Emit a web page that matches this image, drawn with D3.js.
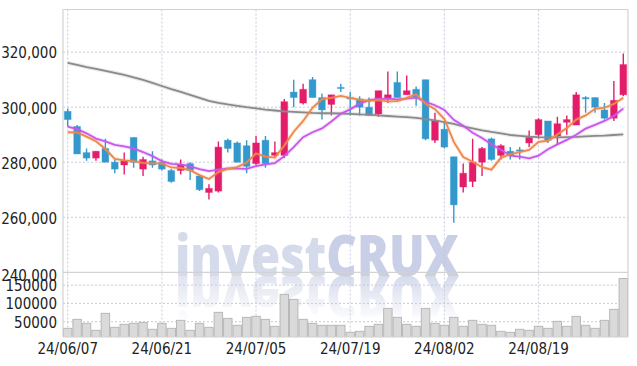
<!DOCTYPE html>
<html><head><meta charset="utf-8">
<script src="https://cdn.jsdelivr.net/npm/d3@7"></script>
<style>body{margin:0;background:#fff}svg{display:block}</style>
</head><body>
<svg id="c" width="637" height="366"></svg>
<script>
const dates = ["24/06/07","24/06/10","24/06/11","24/06/12","24/06/13","24/06/14","24/06/17","24/06/18","24/06/19","24/06/20","24/06/21","24/06/24","24/06/25","24/06/26","24/06/27","24/06/28","24/07/01","24/07/02","24/07/03","24/07/04","24/07/05","24/07/08","24/07/09","24/07/10","24/07/11","24/07/12","24/07/15","24/07/16","24/07/17","24/07/18","24/07/19","24/07/22","24/07/23","24/07/24","24/07/25","24/07/26","24/07/29","24/07/30","24/07/31","24/08/01","24/08/02","24/08/05","24/08/06","24/08/07","24/08/08","24/08/09","24/08/12","24/08/13","24/08/14","24/08/16","24/08/19","24/08/20","24/08/21","24/08/22","24/08/23","24/08/26","24/08/27","24/08/28","24/08/29","24/08/30"];
const open = [298500,293000,283500,281500,285000,280000,279000,289000,277500,280500,
 280000,277000,277000,279500,275000,269000,269500,288000,287000,286000,
 279500,288000,282500,282500,305500,301500,310000,303500,301000,307200,
 303500,303000,300000,297500,303000,309000,304500,306500,310000,288000,
 292000,282000,271000,273000,280000,288500,282500,284000,284500,287000,
 290000,295000,289500,294500,293500,303500,303500,299000,296000,304500];
const high = [299500,293500,285000,284000,288500,281000,283500,289000,282000,284000,
 281000,277500,281000,280000,275500,272000,287500,288500,287500,288000,
 289500,289500,287500,303000,310000,308500,311000,305000,304500,308500,
 305500,304000,303500,306000,313000,313000,311500,307500,310000,298000,
 295000,282000,279500,288500,285500,289000,286500,285500,285500,291500,
 296000,295000,296500,297000,305500,304000,303500,301500,309500,319500];
const low = [293000,283000,280500,280500,280000,276000,275500,278000,275000,278000,
 277000,272500,275500,273500,269500,266500,269000,283500,280000,276000,
 279000,278000,281500,281500,300000,301000,303500,295500,297000,305500,
 297000,297000,297000,296500,301500,303500,304500,300500,288000,287000,
 285000,258000,269000,271000,275000,280500,281000,281000,281000,285500,
 288500,287000,286500,290000,293500,298000,298000,295500,295000,304000];
const close = [295500,283000,281500,284000,280000,277500,280500,280000,281000,279000,
 277500,273000,279000,277000,270000,270500,285500,285000,280000,278500,
 287000,279500,283500,302000,303500,306500,303500,299000,304500,307000,
 303000,300000,297000,306000,304500,303500,306000,303500,288500,295000,
 285500,264500,276000,280000,285000,281000,286000,282500,284000,289000,
 295500,288000,294000,295500,304500,303000,300000,296000,302500,315500];
const volume = [31900,56400,45500,26400,72800,34600,42800,45500,48200,29200,
 45500,31900,53700,26400,45500,34600,75500,59100,40100,61900,
 64600,56400,37300,124500,110900,56400,45500,40100,40100,40100,
 21000,23700,37300,42800,86400,61900,42800,37300,86400,45500,
 40100,61900,37300,53700,42800,40100,23700,21000,29200,26400,
 37300,31900,51000,37300,64600,40100,31900,53700,83700,168100];
const ma5 = [290900,290800,289300,287600,284800,281200,280700,280400,279800,279600,
 279600,278100,277900,277100,275300,273900,276400,277600,278200,279900,
 283200,282000,281700,286100,291100,295000,299800,302900,303400,304100,
 303400,302700,302300,302600,302100,302200,303400,304700,301200,299300,
 295700,287400,281900,280200,278200,277300,281600,282900,283700,284500,
 287400,287800,290100,292400,295500,297000,299400,299800,301200,303400];
const ma10 = [292900,292000,290500,288600,287600,286300,285800,285000,283700,282200,
 280400,279400,279200,278500,277500,276800,277300,277800,277700,277600,
 278600,279200,279700,282200,285500,289100,290900,292300,294800,297600,
 299200,301300,302600,303000,303100,302800,303100,303500,301900,300700,
 299000,295400,293300,290700,288800,286500,284500,282400,282000,281400,
 282400,284700,286500,288100,290000,292200,293600,295000,296800,299500];
const maLong = [316100,315400,314600,313900,313200,312500,311700,310800,309900,308800,
 307700,306600,305600,304500,303400,302300,301600,301000,300500,300000,
 299600,299100,298800,298500,298300,298100,297900,297800,297800,297700,
 297600,297400,297300,297000,296800,296600,296400,296100,295700,295200,
 294600,293900,293000,292300,291600,291000,290500,289900,289600,289300,
 289100,289000,289000,289100,289200,289400,289600,289700,289900,290100];
const priceTicks = [240000,260000,280000,300000,320000];
const volumeTicks = [50000,100000,150000];
const dateTicks = ["24/06/07","24/06/21","24/07/05","24/07/19","24/08/02","24/08/19"];

const svg = d3.select("#c");
const L = 63, R = 628, T = 9.5, PB = 272.3, VB = 337;
const FONT = "'Liberation Sans Narrow','DejaVu Sans Condensed','Liberation Sans',sans-serif";
const UP = "#e41d6b", DOWN = "#3399cc";

const x = d3.scaleBand().domain(dates).range([L, R]).paddingInner(0.28).paddingOuter(0.14);
const cx = d => x(d) + x.bandwidth() / 2;
const y = d3.scaleLinear().domain([240000, 335500]).range([PB, T]);
const yv = d3.scaleLinear().domain([0, 185000]).range([340, PB]);

const defs = svg.append("defs");
defs.append("clipPath").attr("id", "pclip").append("rect").attr("x", L).attr("y", T).attr("width", R - L).attr("height", PB - T);
defs.append("clipPath").attr("id", "vclip").append("rect").attr("x", L).attr("y", PB).attr("width", R - L).attr("height", VB - PB);
const grad = defs.append("linearGradient").attr("id", "fade").attr("gradientUnits", "userSpaceOnUse")
  .attr("x1", 0).attr("x2", 0).attr("y1", 276).attr("y2", 322);
grad.append("stop").attr("offset", 0).attr("stop-color", "#fff").attr("stop-opacity", 0.75);
grad.append("stop").attr("offset", 1).attr("stop-color", "#fff").attr("stop-opacity", 0);
defs.append("mask").attr("id", "fmask").attr("maskUnits", "userSpaceOnUse")
  .attr("x", 0).attr("y", 270).attr("width", 637).attr("height", 70)
  .append("rect").attr("x", 0).attr("y", 276).attr("width", 637).attr("height", 60).attr("fill", "url(#fade)");

// watermark
function wmark(g) {
  const t = g.append("text").attr("x", 175).attr("y", 276)
    .attr("font-family", "'Open Sans', Lato, sans-serif").attr("font-weight", 800).attr("font-size", 56)
    .attr("textLength", 284).attr("lengthAdjust", "spacingAndGlyphs");
  t.append("tspan").attr("fill", "#d6dbeb").text("invest");
  t.append("tspan").attr("fill", "#c8cfe6").text("CRUX");
}
wmark(svg.append("g"));
wmark(svg.append("g").attr("mask", "url(#fmask)").append("g").attr("transform", "translate(0,552) scale(1,-1)"));

// grid
const grid = svg.append("g").attr("stroke", "#c9c9dd").attr("stroke-dasharray", "2,2").attr("stroke-width", 1);
grid.selectAll("line.h").data(priceTicks.filter(v => v > 240000)).join("line")
  .attr("x1", L).attr("x2", R).attr("y1", d => y(d)).attr("y2", d => y(d));
grid.selectAll("line.v").data(volumeTicks).join("line")
  .attr("x1", L).attr("x2", R).attr("y1", d => yv(d)).attr("y2", d => yv(d));
grid.selectAll("line.d").data(dateTicks).join("line")
  .attr("x1", d => cx(d)).attr("x2", d => cx(d)).attr("y1", T).attr("y2", VB);

// volume
svg.append("g").attr("clip-path", "url(#vclip)").selectAll("rect").data(dates).join("rect")
  .attr("x", d => cx(d) - x.step() / 2 + 0.5).attr("width", x.step() - 1)
  .attr("y", (d, i) => yv(volume[i])).attr("height", (d, i) => yv(0) - yv(volume[i]))
  .attr("fill", "#dadada").attr("stroke", "#b8b8b8").attr("stroke-width", 1);

// candles
const cg = svg.append("g").attr("clip-path", "url(#pclip)");
const col = i => close[i] >= open[i] ? UP : DOWN;
cg.selectAll("line").data(dates).join("line")
  .attr("x1", d => cx(d)).attr("x2", d => cx(d))
  .attr("y1", (d, i) => y(high[i])).attr("y2", (d, i) => y(low[i]))
  .attr("stroke", (d, i) => col(i)).attr("stroke-width", 1.4);
cg.selectAll("rect").data(dates).join("rect")
  .attr("x", d => x(d)).attr("width", x.bandwidth())
  .attr("y", (d, i) => y(Math.max(open[i], close[i])))
  .attr("height", (d, i) => Math.max(1.2, Math.abs(y(open[i]) - y(close[i]))))
  .attr("fill", (d, i) => col(i)).attr("stroke", (d, i) => col(i)).attr("stroke-opacity", 0.35).attr("stroke-width", 1);

// moving averages
const line = d3.line().x((d, i) => cx(dates[i])).y(d => y(d));
[[maLong, "#8a8a8a"], [ma10, "#c957ec"], [ma5, "#ef8748"]].forEach(([arr, c]) => {
  cg.append("path").attr("d", line(arr)).attr("fill", "none").attr("stroke", c).attr("stroke-width", 4).attr("stroke-opacity", 0.18);
  cg.append("path").attr("d", line(arr)).attr("fill", "none").attr("stroke", c).attr("stroke-width", 1.8);
});

// frame
const fr = svg.append("g").attr("stroke", "#d2d2d2").attr("stroke-width", 1.2).attr("fill", "none");
fr.append("line").attr("x1", L).attr("x2", L).attr("y1", T).attr("y2", VB);
fr.append("line").attr("x1", R).attr("x2", R).attr("y1", T).attr("y2", VB);
fr.append("line").attr("x1", L).attr("x2", R).attr("y1", T).attr("y2", T);
fr.append("line").attr("x1", L).attr("x2", R).attr("y1", PB).attr("y2", PB);
fr.append("line").attr("x1", L).attr("x2", R).attr("y1", VB).attr("y2", VB);

// axes
function styleAxis(g) {
  g.select(".domain").remove();
  g.selectAll("text").attr("font-family", FONT).attr("font-size", 15).attr("fill", "#222");
}
const ay = svg.append("g").attr("transform", `translate(${L},1)`)
  .call(d3.axisLeft(y).tickValues(priceTicks).tickSize(0).tickPadding(6).tickFormat(d3.format(",")));
styleAxis(ay);
ay.selectAll(".tick").filter(d => d === 240000).select("text").attr("transform", "translate(0,2)");
const av = svg.append("g").attr("transform", `translate(${L},0.5)`)
  .call(d3.axisLeft(yv).tickValues(volumeTicks).tickSize(0).tickPadding(6).tickFormat(d3.format("d")));
styleAxis(av);
const ax = svg.append("g").attr("transform", `translate(0,${VB})`)
  .call(d3.axisBottom(x).tickValues(dateTicks).tickSize(0).tickPadding(6));
styleAxis(ax);
</script>
</body></html>
